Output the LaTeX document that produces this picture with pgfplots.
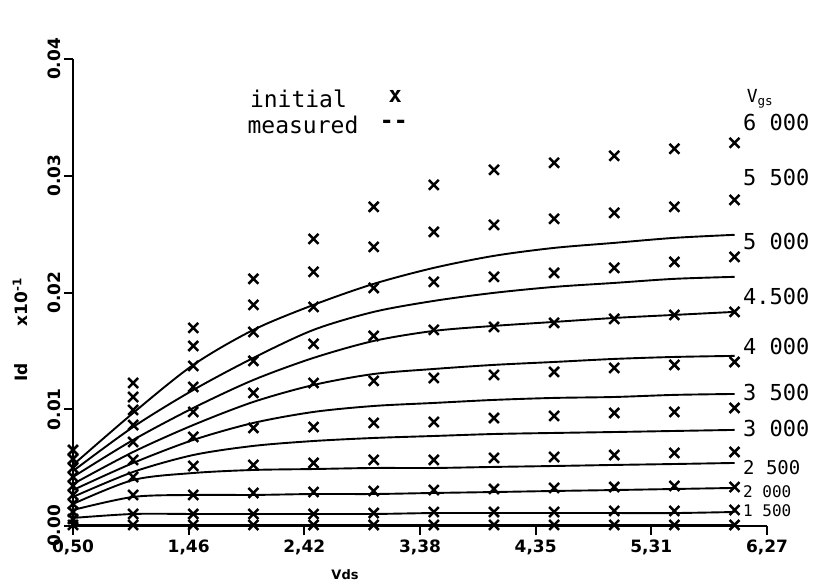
\documentclass[border=0pt]{standalone}
\usepackage{fontspec}
\setmainfont{DejaVu Sans}
\setmonofont{DejaVu Sans Mono}
\usepackage{pgfplots}
\usepackage{pgfplotstable}
\pgfplotsset{compat=1.18}

% measured curves (lines), Id in A, one column per Vgs
\pgfplotstableread{
vds  L1500  L2000   L2500   L3000   L3500   L4000   L4500   L5000   L5500   L6000
0.5  0.0001 0.00069 0.00137 0.00189 0.00249 0.00308 0.00360 0.00420 0.00471 0.00523
1.0  0.0001 0.00103 0.00249 0.00394 0.00463 0.00540 0.00634 0.00737 0.00848 0.00968
1.5  0.0001 0.00103 0.00266 0.00454 0.00608 0.00737 0.00865 0.01011 0.01165 0.01380
2.0  0.0001 0.00103 0.00266 0.00480 0.00686 0.00883 0.01063 0.01251 0.01440 0.01680
2.5  0.0001 0.00103 0.00274 0.00488 0.00728 0.00977 0.01208 0.01440 0.01680 0.01894
3.0  0.0001 0.00103 0.00274 0.00497 0.00754 0.01028 0.01302 0.01585 0.01834 0.02074
3.5  0.0001 0.00111 0.00283 0.00497 0.00771 0.01054 0.01345 0.01671 0.01928 0.02211
4.0  0.0001 0.00111 0.00291 0.00506 0.00788 0.01080 0.01380 0.01714 0.01997 0.02314
4.5  0.0001 0.00111 0.00300 0.00514 0.00797 0.01097 0.01405 0.01748 0.02048 0.02382
5.0  0.0001 0.00111 0.00308 0.00523 0.00805 0.01105 0.01431 0.01782 0.02082 0.02425
5.5  0.0001 0.00111 0.00317 0.00531 0.00814 0.01123 0.01448 0.01808 0.02117 0.02468
6.0  0.0001 0.00120 0.00326 0.00540 0.00823 0.01131 0.01457 0.01834 0.02134 0.02494
}\linesdata

% initial model (crosses)
\pgfplotstableread{
vds  C1500   C2000   C2500   C3000   C3500   C4000   C4500   C5000   C5500   C6000
0.5  0.00009 0.00060 0.00120 0.00189 0.00266 0.00343 0.00420 0.00497 0.00574 0.00651
1.0  0.00009 0.00103 0.00266 0.00420 0.00566 0.00720 0.00865 0.00994 0.01105 0.01225
1.5  0.00009 0.00103 0.00266 0.00514 0.00763 0.00977 0.01191 0.01371 0.01542 0.01697
2.0  0.00009 0.00103 0.00283 0.00523 0.00840 0.01140 0.01414 0.01662 0.01894 0.02117
2.5  0.00009 0.00103 0.00291 0.00540 0.00848 0.01225 0.01560 0.01877 0.02177 0.02459
3.0  0.00009 0.00111 0.00300 0.00566 0.00883 0.01243 0.01628 0.02039 0.02391 0.02734
3.5  0.00009 0.00120 0.00308 0.00566 0.00891 0.01268 0.01680 0.02091 0.02519 0.02922
4.0  0.00009 0.00120 0.00317 0.00583 0.00925 0.01294 0.01705 0.02134 0.02579 0.03051
4.5  0.00009 0.00120 0.00326 0.00591 0.00943 0.01320 0.01740 0.02168 0.02631 0.03111
5.0  0.00009 0.00129 0.00334 0.00608 0.00968 0.01354 0.01774 0.02211 0.02682 0.03171
5.5  0.00009 0.00129 0.00343 0.00626 0.00977 0.01380 0.01808 0.02262 0.02734 0.03231
6.0  0.00009 0.00137 0.00334 0.00634 0.01011 0.01405 0.01834 0.02305 0.02793 0.03282
}\crossdata

\begin{document}
\begin{tikzpicture}
\useasboundingbox (0,0) rectangle (819pt,584pt);
\begin{axis}[
  at={(73pt,58pt)}, anchor=south west,
  width=694pt, height=467pt, scale only axis,
  xmin=0.5, xmax=6.27, ymin=0, ymax=0.04,
  axis x line*=bottom, axis y line*=left,
  axis line style={line width=2.4pt, -},
  tick align=outside, major tick length=9pt,
  tick style={line width=2pt, black},
  xtick={0.5,1.4617,2.4233,3.385,4.3467,5.3083,6.27},
  xticklabels={{0,50},{1,46},{2,42},{3,38},{4,35},{5,31},{6,27}},
  ytick={0,0.01,0.02,0.03,0.04},
  yticklabels={0.00,0.01,0.02,0.03,0.04},
  scaled y ticks=false,
  xticklabel style={font=\bfseries\fontsize{17}{18}\selectfont, yshift=-1pt},
  yticklabel style={rotate=90, anchor=south, font=\bfseries\fontsize{17}{18}\selectfont},
  xlabel={Vds},
  xlabel style={at={(axis description cs:0.392,-0.105)}, anchor=center, font=\bfseries\fontsize{13}{13}\selectfont},
  ylabel={Id\hspace{2.2em}x10\textsuperscript{-1}},
  ylabel style={at={(axis description cs:-0.076,0.42)}, anchor=center, font=\bfseries\fontsize{17}{17}\selectfont},
  clip=false,
]
\foreach \c in {L1500,L2000,L2500,L3000,L3500,L4000,L4500,L5000,L5500,L6000}{
  \addplot[black, line width=1.9pt, smooth] table[x=vds, y=\c]{\linesdata};
}
\foreach \c in {C1500,C2000,C2500,C3000,C3500,C4000,C4500,C5000,C5500,C6000}{
  \addplot[black, only marks, mark=x, mark size=7pt, mark options={line width=2.5pt}] table[x=vds, y=\c]{\crossdata};
}
% legend text
\node[anchor=west, inner sep=0, font=\ttfamily\fontsize{23}{23}\selectfont] at (axis cs:1.97,0.03660) {initial};
\node[anchor=center, inner sep=0, font=\ttfamily\bfseries\fontsize{22}{22}\selectfont] at (axis cs:3.18,0.03680) {x};
\node[anchor=west, inner sep=0, font=\ttfamily\fontsize{23}{23}\selectfont] at (axis cs:1.95,0.03437) {measured};
\node[anchor=west, inner sep=0, font=\ttfamily\bfseries\fontsize{23}{23}\selectfont] at (axis cs:3.05,0.03437) {-{}-};
% Vgs labels
\node[anchor=west, inner sep=0, font=\ttfamily\fontsize{18}{18}\selectfont] at (axis cs:6.10,0.03660) {V\textsubscript{gs}};
\node[anchor=west, inner sep=0, font=\ttfamily\fontsize{22}{22}\selectfont] at (axis cs:6.07,0.03454) {6 000};
\node[anchor=west, inner sep=0, font=\ttfamily\fontsize{22}{22}\selectfont] at (axis cs:6.07,0.02982) {5 500};
\node[anchor=west, inner sep=0, font=\ttfamily\fontsize{22}{22}\selectfont] at (axis cs:6.07,0.02434) {5 000};
\node[anchor=west, inner sep=0, font=\ttfamily\fontsize{22}{22}\selectfont] at (axis cs:6.07,0.01962) {4.500};
\node[anchor=west, inner sep=0, font=\ttfamily\fontsize{22}{22}\selectfont] at (axis cs:6.07,0.01534) {4 000};
\node[anchor=west, inner sep=0, font=\ttfamily\fontsize{22}{22}\selectfont] at (axis cs:6.07,0.01140) {3 500};
\node[anchor=west, inner sep=0, font=\ttfamily\fontsize{22}{22}\selectfont] at (axis cs:6.07,0.00831) {3 000};
\node[anchor=west, inner sep=0, font=\ttfamily\fontsize{19}{19}\selectfont] at (axis cs:6.07,0.00500) {2 500};
\node[anchor=west, inner sep=0, font=\ttfamily\fontsize{16}{16}\selectfont] at (axis cs:6.07,0.00292) {2 000};
\node[anchor=west, inner sep=0, font=\ttfamily\fontsize{16}{16}\selectfont] at (axis cs:6.07,0.00133) {1 500};
\end{axis}
\end{tikzpicture}
\end{document}
